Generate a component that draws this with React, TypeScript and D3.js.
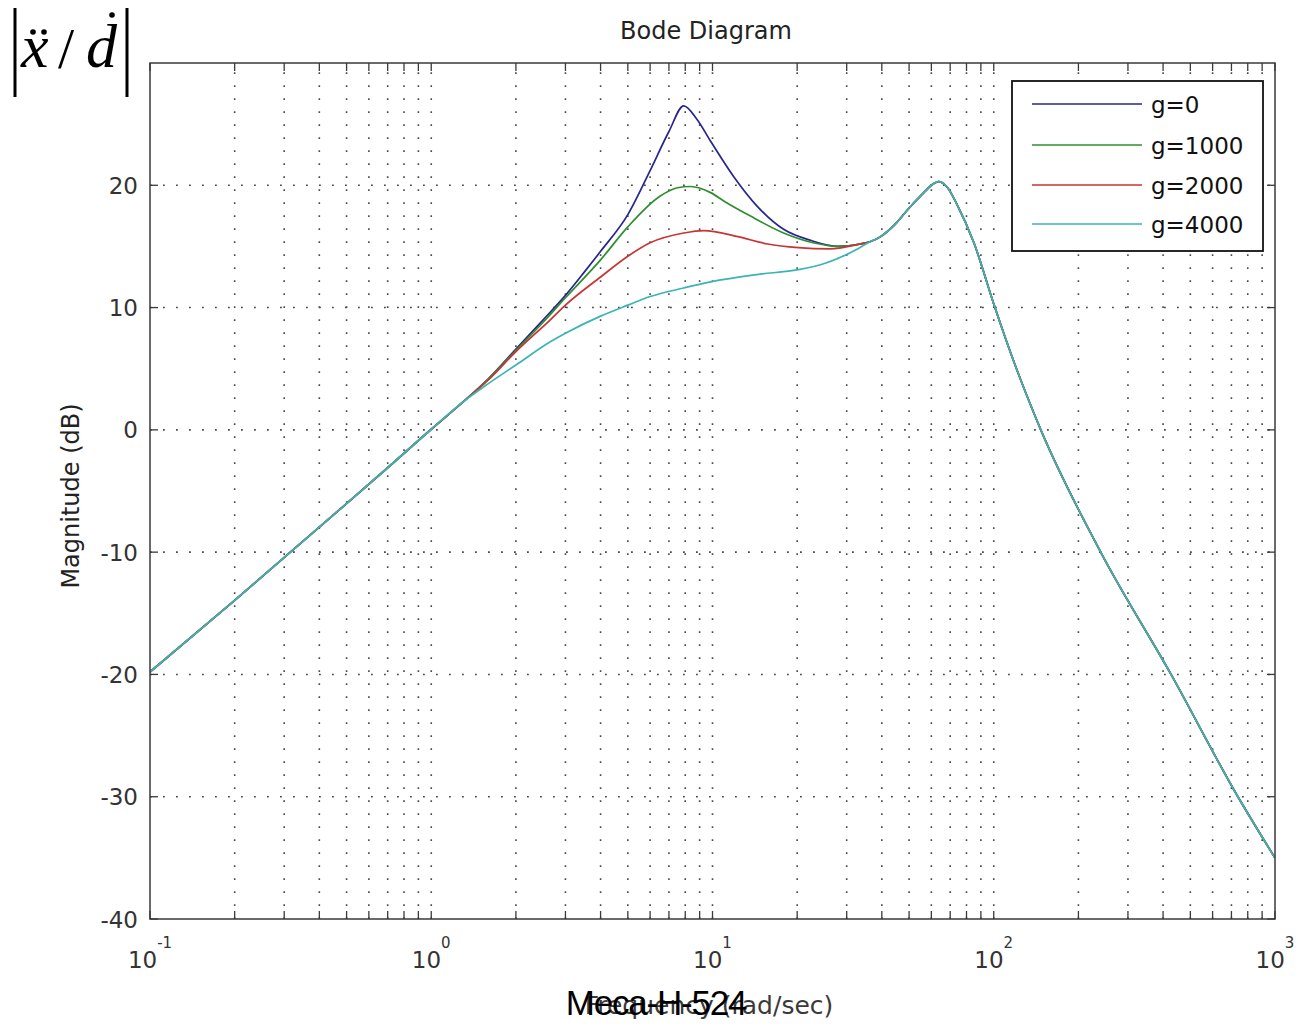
import React from "react";
import * as d3 from "d3";

// Frequency response magnitude |x''/d'| for several gain values g.
// Shared low-frequency asymptote (all gains coincide here)
const lowFreq = [0.1, 0.2, 0.4, 0.7, 1.0, 1.3];
const lowDb = [-19.8, -13.95, -7.95, -3.1, 0.05, 2.3];

// Shared high-frequency part (second resonance and roll-off)
const highFreq = [36.5, 39.6, 45, 49.4, 56.4, 60, 63.7, 68, 74.5, 85, 100, 120, 147, 240, 427, 738, 1000];
const highDb = [15.4, 15.8, 16.9, 18.0, 19.4, 20.0, 20.3, 19.9, 18.3, 15.3, 10.3, 5.1, 0.0, -10.0, -20.0, -30.0, -35.0];

// Per-gain middle sections
const g0Freq = [1.6, 2, 2.5, 3, 3.5, 4, 5, 6, 7, 7.9, 8.8, 9.85, 11.9, 14.4, 17.9, 22.3, 28, 33.6];
const g0Db = [4.2, 6.6, 9.0, 11.0, 12.9, 14.6, 17.6, 21.2, 24.4, 26.5, 25.4, 23.6, 20.7, 18.3, 16.4, 15.5, 15.0, 15.2];

const g1000Freq = [1.6, 2, 2.5, 3, 4, 5, 6.5, 7.5, 8.35, 9.85, 11, 13.6, 17.9, 22.8, 28, 33.6];
const g1000Db = [4.2, 6.5, 8.8, 10.8, 13.9, 16.6, 19.1, 19.8, 19.9, 19.4, 18.7, 17.5, 16.1, 15.3, 15.0, 15.2];

const g2000Freq = [1.6, 2, 2.65, 3, 4, 5, 6, 7.9, 9.3, 12.3, 15.7, 20.2, 26, 33.6];
const g2000Db = [4.1, 6.4, 9.0, 10.2, 12.5, 14.2, 15.3, 16.1, 16.3, 15.8, 15.2, 14.9, 14.8, 15.2];

const g4000Freq = [1.6, 2, 2.65, 3, 4, 5, 6, 7.9, 9.85, 14.4, 20.2, 25, 31];
const g4000Db = [3.8, 5.3, 7.2, 7.9, 9.3, 10.2, 10.9, 11.6, 12.1, 12.7, 13.1, 13.6, 14.5];

const seriesNames = ["g=0", "g=1000", "g=2000", "g=4000"];
const seriesColors = ["#26268e", "#2f8f2f", "#c83434", "#3ab4b4"];

const yTicks = [-40, -30, -20, -10, 0, 10, 20];
const xDecades = [-1, 0, 1, 2, 3];

const W = 1298;
const H = 1027;
const L = 150, R = 1275, T = 63, B = 919;

const FONT = "'DejaVu Sans', sans-serif";
const AXIS_GREY = "#3a3a3a";

function zip(f: number[], v: number[]) {
  return f.map((x, i) => [x, v[i]] as [number, number]);
}

export default function App() {
  const x = d3.scaleLog().domain([0.1, 1000]).range([L, R]);
  const y = d3.scaleLinear().domain([-40, 30]).range([B, T]);

  const mids: [number[], number[]][] = [
    [g0Freq, g0Db],
    [g1000Freq, g1000Db],
    [g2000Freq, g2000Db],
    [g4000Freq, g4000Db],
  ];
  const series = mids.map(([f, v]) => [
    ...zip(lowFreq, lowDb),
    ...zip(f, v),
    ...zip(highFreq, highDb),
  ]);

  const line = d3
    .line<[number, number]>()
    .x((d) => x(d[0]))
    .y((d) => y(d[1]))
    .curve(d3.curveMonotoneX);

  // all log-scale gridline positions (major + minor) inside the frame
  const gridX: number[] = [];
  for (let e = -1; e < 3; e++) {
    for (let m = 1; m <= 9; m++) {
      const v = m * Math.pow(10, e);
      if (v > 0.1 && v < 1000) gridX.push(v);
    }
  }

  const tickLen = 8;
  const legendItemsY = [104, 145, 185, 224];

  return (
    <svg
      width={W}
      height={H}
      style={{ position: "absolute", left: 0, top: 0, background: "#fff" }}
    >
      <rect x={0} y={0} width={W} height={H} fill="#fff" />
      <defs>
        <clipPath id="plotClip">
          <rect x={L} y={T} width={R - L} height={B - T} />
        </clipPath>
      </defs>

      {/* dotted grid */}
      <g stroke="#4a4a4a" strokeWidth={1.6} strokeDasharray="1.8,11.2" fill="none">
        {gridX.map((v, i) => (
          <line key={"gx" + i} x1={x(v)} x2={x(v)} y1={B} y2={T} />
        ))}
        {yTicks
          .filter((v) => v > -40)
          .map((v) => (
            <line key={"gy" + v} x1={L} x2={R} y1={y(v)} y2={y(v)} />
          ))}
      </g>

      {/* ticks */}
      <g stroke={AXIS_GREY} strokeWidth={1.3}>
        {gridX.concat([0.1, 1000]).map((v, i) => (
          <g key={"tx" + i}>
            <line x1={x(v)} x2={x(v)} y1={B} y2={B - tickLen} />
            <line x1={x(v)} x2={x(v)} y1={T} y2={T + tickLen} />
          </g>
        ))}
        {yTicks.map((v) => (
          <g key={"ty" + v}>
            <line x1={L} x2={L + tickLen} y1={y(v)} y2={y(v)} />
            <line x1={R} x2={R - tickLen} y1={y(v)} y2={y(v)} />
          </g>
        ))}
      </g>

      {/* curves */}
      <g clipPath="url(#plotClip)" fill="none" strokeWidth={1.7} strokeLinejoin="round">
        {series.map((pts, i) => (
          <path key={seriesNames[i]} d={line(pts) || ""} stroke={seriesColors[i]} />
        ))}
      </g>

      {/* frame */}
      <rect x={L} y={T} width={R - L} height={B - T} fill="none" stroke={AXIS_GREY} strokeWidth={1.5} />

      {/* y tick labels */}
      <g fontFamily={FONT} fontSize={23} fill="#333" textAnchor="end">
        {yTicks.map((v) => (
          <text key={"yl" + v} x={L - 12} y={y(v) + 8.5}>
            {v}
          </text>
        ))}
      </g>

      {/* x tick labels: 10^e */}
      <g fontFamily={FONT} fill="#333" textAnchor="middle">
        {xDecades.map((e) => (
          <text key={"xl" + e} x={x(Math.pow(10, e))} y={968} fontSize={23}>
            <tspan>10</tspan>
            <tspan dy={-20} fontSize={15}>
              {String(e)}
            </tspan>
          </text>
        ))}
      </g>

      {/* title */}
      <text x={706} y={39} textAnchor="middle" fontFamily={FONT} fontSize={24} fill="#222">
        Bode Diagram
      </text>

      {/* y label */}
      <text
        transform={`translate(79, 496) rotate(-90)`}
        textAnchor="middle"
        fontFamily={FONT}
        fontSize={24}
        fill="#222"
      >
        Magnitude (dB)
      </text>

      {/* x label */}
      <text x={709} y={1014} textAnchor="middle" fontFamily={FONT} fontSize={25} fill="#3a3a3a">
        Frequency (rad/sec)
      </text>

      {/* legend */}
      <rect x={1012} y={81} width={251} height={170} fill="#fff" stroke="#111" strokeWidth={1.8} />
      {seriesNames.map((name, i) => (
        <g key={"lg" + name}>
          <line
            x1={1032}
            x2={1142}
            y1={legendItemsY[i]}
            y2={legendItemsY[i]}
            stroke={seriesColors[i]}
            strokeWidth={1.7}
          />
          <text x={1151} y={legendItemsY[i] + 8.5} fontFamily={FONT} fontSize={23} fill="#111">
            {name}
          </text>
        </g>
      ))}

      {/* label over the x axis title */}
      <text
        x={656}
        y={1015}
        textAnchor="middle"
        fontFamily="'Liberation Sans', Arial, sans-serif"
        fontSize={35}
        letterSpacing={-1.2}
        fill="#000"
      >
        Meca-H-524
      </text>

      {/* |x'' / d'| formula in the corner */}
      <g fill="#000">
        <line x1={15} x2={15} y1={8} y2={97} stroke="#000" strokeWidth={3} />
        <line x1={127} x2={127} y1={8} y2={97} stroke="#000" strokeWidth={3} />
        <text
          x={21}
          y={67}
          fontFamily="'Liberation Serif', 'Times New Roman', serif"
          fontStyle="italic"
          fontSize={62}
        >
          x
        </text>
        <circle cx={33} cy={32} r={2.8} />
        <circle cx={44} cy={32} r={2.8} />
        <text x={58} y={68} fontFamily="'Liberation Serif', 'Times New Roman', serif" fontSize={58}>
          /
        </text>
        <text
          x={86}
          y={67}
          fontFamily="'Liberation Serif', 'Times New Roman', serif"
          fontStyle="italic"
          fontSize={62}
        >
          d
        </text>
        <circle cx={112} cy={15} r={2.8} />
      </g>
    </svg>
  );
}
